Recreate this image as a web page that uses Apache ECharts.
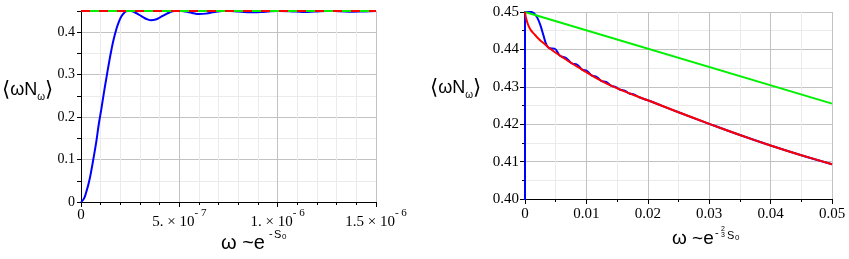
<!DOCTYPE html>
<html><head><meta charset="utf-8">
<script src="https://cdn.jsdelivr.net/npm/echarts@6/dist/echarts.min.js"></script>
<style>html,body{margin:0;padding:0;background:#fff}#c{width:849px;height:259px}</style>
</head><body><div id="c"></div>
<script>
// ---- data ----
const leftXTickMant = ['0', '5.', '1.', '1.5'];
const leftXTickExp = ['', '- 7', '- 6', '- 6'];
const leftYTicks = ['0', '0.1', '0.2', '0.3', '0.4'];
const rightXTicks = ['0', '0.01', '0.02', '0.03', '0.04', '0.05'];
const rightYTicks = ['0.40', '0.41', '0.42', '0.43', '0.44', '0.45'];

const leftBlueX = [0, 1.5e-8, 2.7e-8, 4.0e-8, 5.2e-8, 6.5e-8, 7.8e-8, 9.0e-8, 1.03e-7, 1.16e-7, 1.29e-7, 1.42e-7, 1.54e-7, 1.67e-7, 1.79e-7, 1.92e-7, 2.05e-7, 2.18e-7, 2.30e-7, 2.45e-7, 2.60e-7, 2.75e-7, 2.90e-7, 3.07e-7, 3.25e-7, 3.55e-7, 3.80e-7, 4.00e-7, 4.25e-7, 4.50e-7, 4.75e-7, 5.00e-7, 5.30e-7, 5.65e-7, 6.00e-7, 6.35e-7, 6.80e-7, 7.40e-7, 8.00e-7, 8.70e-7, 9.40e-7, 1.00e-6, 1.06e-6, 1.13e-6, 1.19e-6, 1.25e-6, 1.31e-6, 1.38e-6, 1.44e-6, 1.50e-6];
const leftBlueY = [0, 0.008, 0.024, 0.046, 0.073, 0.107, 0.143, 0.182, 0.218, 0.256, 0.292, 0.327, 0.357, 0.385, 0.406, 0.424, 0.437, 0.445, 0.4495, 0.4505, 0.4495, 0.4465, 0.4425, 0.4380, 0.4330, 0.4282, 0.4300, 0.4345, 0.4410, 0.4465, 0.4498, 0.4503, 0.4488, 0.4455, 0.4428, 0.4438, 0.4478, 0.4503, 0.4490, 0.4468, 0.4482, 0.4500, 0.4495, 0.4478, 0.4488, 0.4501, 0.4495, 0.4483, 0.4490, 0.4499];
const leftLimitX = [0, 1.5e-6];
const leftLimitY = [0.45, 0.45];

const rightBlueX = [0, 0, 0.0005, 0.001, 0.0015, 0.002, 0.0025, 0.003, 0.0035, 0.0040, 0.0048, 0.0057, 0.0067, 0.0076, 0.0085, 0.0093, 0.0101, 0.0109, 0.0117, 0.0124, 0.0132, 0.0140, 0.0148, 0.0155, 0.0163, 0.0170, 0.0178, 0.0186, 0.020, 0.025, 0.030, 0.035, 0.040, 0.045, 0.050];
const rightBlueY = [0.39, 0.4500, 0.4501, 0.4500, 0.4496, 0.4485, 0.4465, 0.4438, 0.4412, 0.4403, 0.4402, 0.4383, 0.4377, 0.4363, 0.4359, 0.4346, 0.4342, 0.4330, 0.4326, 0.4316, 0.4313, 0.4303, 0.4299, 0.4292, 0.4289, 0.4282, 0.4279, 0.4272, 0.4264, 0.4232, 0.4201, 0.4171, 0.4143, 0.4117, 0.4093];
const rightRedX = [0, 0.0001, 0.0003, 0.0006, 0.001, 0.0015, 0.002, 0.0025, 0.003, 0.0035, 0.004, 0.005, 0.006, 0.007, 0.008, 0.009, 0.010, 0.012, 0.014, 0.016, 0.018, 0.020, 0.025, 0.030, 0.035, 0.040, 0.045, 0.050];
const rightRedY = [0.4500, 0.4489, 0.4476, 0.4462, 0.4450, 0.4441, 0.4432, 0.4424, 0.4417, 0.4410, 0.4403, 0.4391, 0.4380, 0.4369, 0.4359, 0.4349, 0.4339, 0.4320, 0.4303, 0.4289, 0.4276, 0.4264, 0.4232, 0.4201, 0.4171, 0.4143, 0.4117, 0.4093];
const rightGreenX = [0, 0.05];
const rightGreenY = [0.45, 0.4255];

// ---- chart ----
const zip = (xs, ys) => xs.map((x, i) => [x, ys[i]]);
const SERIF = 'Liberation Serif';
const SANS = 'Liberation Sans';
const MAJ = '#c2c2c2', MIN = '#ebebeb';
const BLUE = '#0000ff', RED = '#ff0000', GREEN = '#00f000';
const chart = echarts.init(document.getElementById('c'), null, {renderer: 'canvas'});

function baseAxis(extra) {
  return Object.assign({
    type: 'value',
    axisLine: {show: true, onZero: false, lineStyle: {color: '#000', width: 1}},
    axisTick: {show: true, length: 5, lineStyle: {color: '#000'}},
    splitLine: {show: true, lineStyle: {color: MAJ, width: 1}},
  }, extra);
}
function txt(left, top, text, size, font) {
  return {type: 'text', left: left, top: top, silent: true,
    style: {text: text, fontFamily: font || SANS, fontSize: size, lineHeight: size, fill: '#000'}};
}
const yName = {
  text: '{b|⟨}{a|ωN}{s|ω}{b|⟩}',
  rich: {
    b: {fontFamily: 'DejaVu Sans', fontSize: 21, lineHeight: 24, fill: '#000'},
    a: {fontFamily: SANS, fontSize: 18, lineHeight: 24, fill: '#000'},
    s: {fontFamily: SANS, fontSize: 10, lineHeight: 12, verticalAlign: 'bottom', fill: '#000'}
  }
};

const option = {
  animation: false,
  backgroundColor: '#fff',
  grid: [
    {left: 81, top: 11, width: 295, height: 191},
    {left: 525, top: 12, width: 307, height: 187}
  ],
  xAxis: [
    baseAxis({
      gridIndex: 0, min: 0, max: 1.5e-6, interval: 5e-7,
      minorTick: {show: true, splitNumber: 5, length: 3, lineStyle: {color: '#000'}},
      minorSplitLine: {show: true, lineStyle: {color: MIN}},
      axisLabel: {
        margin: 6, color: '#000',
        formatter: v => {
          const i = Math.round(v / 5e-7);
          if (!leftXTickExp[i]) return '{z|' + leftXTickMant[i] + '}';
          return '{n|' + leftXTickMant[i] + ' × 10}{p|' + leftXTickExp[i] + '}';
        },
        rich: {
          z: {fontFamily: SERIF, fontSize: 15, lineHeight: 15, color: '#000'},
          n: {fontFamily: SERIF, fontSize: 15, lineHeight: 28, color: '#000'},
          p: {fontFamily: SERIF, fontSize: 11, lineHeight: 11, verticalAlign: 'top', color: '#000'}
        }
      }
    }),
    baseAxis({
      gridIndex: 1, min: 0, max: 0.05, interval: 0.01,
      minorTick: {show: true, splitNumber: 2, length: 3, lineStyle: {color: '#000'}},
      minorSplitLine: {show: true, lineStyle: {color: MIN}},
      axisLabel: {
        margin: 8, color: '#000', fontFamily: SERIF, fontSize: 15,
        formatter: v => rightXTicks[Math.round(v / 0.01)]
      }
    })
  ],
  yAxis: [
    baseAxis({
      gridIndex: 0, min: 0, max: 0.45, interval: 0.05,
      axisTick: {show: true, length: 4, lineStyle: {color: '#000'}},
      splitLine: {show: true, lineStyle: {color: [MAJ, MIN], width: 1}},
      axisLabel: {
        margin: 6, color: '#000', fontFamily: SERIF, fontSize: 14,
        formatter: v => {
          const i = Math.round(v / 0.05);
          return (i % 2 === 0 && leftYTicks[i / 2] !== undefined) ? leftYTicks[i / 2] : '';
        }
      }
    }),
    baseAxis({
      gridIndex: 1, min: 0.40, max: 0.45, interval: 0.01,
      minorTick: {show: true, splitNumber: 2, length: 3, lineStyle: {color: '#000'}},
      minorSplitLine: {show: true, lineStyle: {color: MIN}},
      axisLabel: {
        margin: 6, color: '#000', fontFamily: SERIF, fontSize: 15,
        formatter: v => rightYTicks[Math.round((v - 0.40) / 0.01)]
      }
    })
  ],
  series: [
    {type: 'line', xAxisIndex: 0, yAxisIndex: 0, data: zip(leftBlueX, leftBlueY), smooth: true, showSymbol: false,
     lineStyle: {color: BLUE, width: 2}},
    {type: 'line', xAxisIndex: 0, yAxisIndex: 0, data: zip(leftLimitX, leftLimitY), showSymbol: false, clip: false,
     lineStyle: {color: GREEN, width: 2}},
    {type: 'line', xAxisIndex: 0, yAxisIndex: 0, data: zip(leftLimitX, leftLimitY), showSymbol: false, clip: false,
     lineStyle: {color: RED, width: 2, type: [9, 9]}},
    {type: 'line', xAxisIndex: 1, yAxisIndex: 1, data: zip(rightBlueX, rightBlueY), smooth: 0.4, showSymbol: false,
     lineStyle: {color: BLUE, width: 2}},
    {type: 'line', xAxisIndex: 1, yAxisIndex: 1, data: zip(rightGreenX, rightGreenY), showSymbol: false,
     lineStyle: {color: GREEN, width: 2}},
    {type: 'line', xAxisIndex: 1, yAxisIndex: 1, data: zip(rightRedX, rightRedY), smooth: 0.25, showSymbol: false,
     lineStyle: {color: RED, width: 2}}
  ],
  graphic: [
    {type: 'text', left: 2, top: 80, silent: true, style: yName},
    {type: 'text', left: 430, top: 78, silent: true, style: yName},
    // left x name: ω ~e^{-S0}
    txt(221, 233, 'ω ~e', 20),
    txt(269, 228, '-', 11),
    txt(274, 229, 'S', 11),
    txt(282, 233, '0', 8),
    // right x name: ω ~e^{-2/3 S0}
    txt(672, 229, 'ω ~e', 19),
    txt(715, 227, '-', 11),
    {type: 'text', left: 721, top: 226, silent: true,
     style: {text: '2\n3', fontFamily: SANS, fontSize: 7, lineHeight: 6, fill: '#000', align: 'center'}},
    txt(727, 230, 'S', 11),
    txt(735, 234, '0', 8)
  ]
};
chart.setOption(option);
</script></body></html>
